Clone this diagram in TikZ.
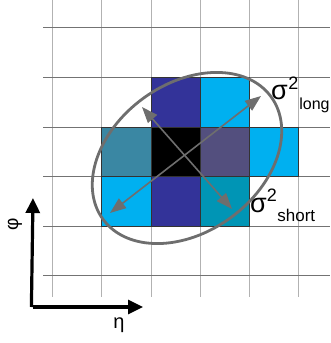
\documentclass[tikz,border=0pt]{standalone}
\usepackage{fontspec}
\setmainfont{Liberation Sans}
\usetikzlibrary{arrows.meta}
\definecolor{dblue}{HTML}{333399}
\definecolor{cyanc}{HTML}{00B0F0}
\definecolor{tealA}{HTML}{3A87A3}
\definecolor{purp}{HTML}{534F7E}
\definecolor{tealB}{HTML}{0095B5}
\definecolor{ringgray}{HTML}{6E6E6E}
\tikzset{
  vgrid/.style={draw=black!30, line width=0.8pt},
  hgrid/.style={draw=black!55, line width=0.8pt},
  cell/.style={draw=black!80, line width=0.6pt},
  axisarrow/.style={line width=3.2pt, -{Triangle[length=15pt,width=14pt]}},
  sigarrow/.style={draw=ringgray, line width=1.6pt, {Triangle[length=16pt,width=12pt]}-{Triangle[length=16pt,width=12pt]}},
  ring/.style={draw=ringgray, line width=2.8pt},
  lab/.style={inner sep=0pt, font=\fontsize{27}{27}\selectfont}
}
\begin{document}
\begin{tikzpicture}[x=1pt,y=1pt]
\useasboundingbox (0,0) rectangle (330,343);
% grid
\foreach \x in {52,101,151,200,249,298} \draw[vgrid] (\x,343) -- (\x,46);
\foreach \y in {316,266,216,167,117,68} \draw[hgrid] (43,\y) -- (330,\y);
% cells
\fill[dblue] (151,216) rectangle (200,266);
\fill[cyanc] (200,216) rectangle (249,266);
\fill[tealA] (101,167) rectangle (151,216);
\fill[black] (151,167) rectangle (200,216);
\fill[purp] (200,167) rectangle (249,216);
\fill[cyanc] (249,167) rectangle (298,216);
\fill[cyanc] (101,117) rectangle (151,167);
\fill[dblue] (151,117) rectangle (200,167);
\fill[tealB] (200,117) rectangle (249,167);
\draw[cell] (151,216) rectangle (200,266);
\draw[cell] (200,216) rectangle (249,266);
\draw[cell] (101,167) rectangle (151,216);
\draw[cell] (200,167) rectangle (249,216);
\draw[cell] (249,167) rectangle (298,216);
\draw[cell] (101,117) rectangle (151,167);
\draw[cell] (151,117) rectangle (200,167);
\draw[cell] (200,117) rectangle (249,167);
% ellipse
\coordinate (c) at (187,185);
\draw[ring, rotate around={36:(c)}] (c) ellipse (104 and 74);
% sigma arrows
\coordinate (la) at (110,130);
\coordinate (lb) at (261,247);
\coordinate (sa) at (142,236);
\coordinate (sb) at (232,134);
\draw[sigarrow] (la) -- (lb);
\draw[sigarrow] (sa) -- (sb);
% labels
\node[lab, anchor=base west] (slong) at (271,243) {σ\kern0.5pt\raisebox{10pt}{\fontsize{18}{18}\selectfont 2}\kern1pt\raisebox{-10pt}{\fontsize{16}{16}\selectfont long}};
\node[lab, anchor=base west] (sshort) at (250,130) {σ\raisebox{11pt}{\fontsize{18}{18}\selectfont 2}\kern0.5pt\raisebox{-9pt}{\fontsize{17}{17}\selectfont short}};
% axes
\coordinate (o) at (33,36);
\coordinate (ytip) at (33,145);
\coordinate (xtip) at (143,36);
\draw[axisarrow] ([xshift=-1.6pt]o) -- (ytip);
\draw[axisarrow] (o) -- (xtip);
\node[inner sep=0pt, rotate=90, font=\fontsize{19}{19}\selectfont] (phi) at (15,119) {φ};
\node[inner sep=0pt, font=\fontsize{20}{20}\selectfont] (eta) at (119,18) {η};
\end{tikzpicture}
\end{document}
